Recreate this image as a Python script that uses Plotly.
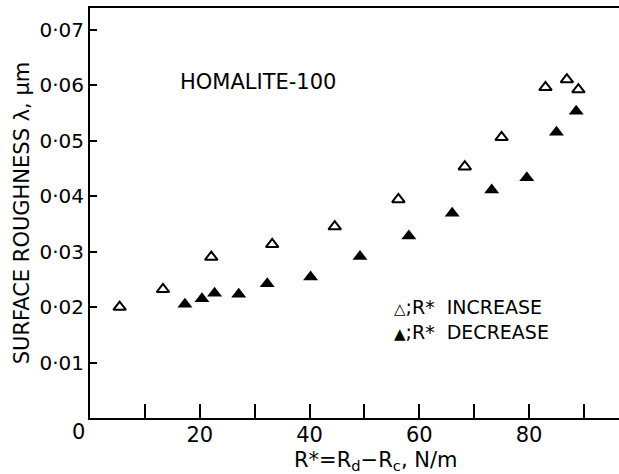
import plotly.graph_objects as go

# Data
inc_x = [5.4, 13.3, 22.1, 33.2, 44.6, 56.2, 68.3, 75.0, 83.0, 86.9, 89.0]
inc_y = [0.0200, 0.0232, 0.0290, 0.0313, 0.0345, 0.0394, 0.0453, 0.0506, 0.0596, 0.0610, 0.0592]

dec_x = [17.3, 20.4, 22.7, 27.1, 32.3, 40.2, 49.2, 58.1, 66.0, 73.2, 79.6, 85.0, 88.6]
dec_y = [0.0205, 0.0215, 0.0225, 0.0223, 0.0242, 0.0254, 0.0291, 0.0328, 0.0369, 0.0411, 0.0433, 0.0515, 0.0553]

x_tickvals = [20, 40, 60, 80]
x_ticktext = ["20", "40", "60", "80"]
x_minorvals = [10, 30, 50, 70, 90]
y_tickvals = [0.01, 0.02, 0.03, 0.04, 0.05, 0.06, 0.07]
y_ticktext = ["0·01", "0·02", "0·03", "0·04", "0·05", "0·06", "0·07"]

FONT = "DejaVu Sans"

fig = go.Figure()
fig.add_trace(go.Scatter(
    x=inc_x, y=inc_y, mode="markers", name="R* INCREASE",
    marker=dict(symbol="triangle-up-open", size=11, color="black",
                line=dict(width=2, color="black")),
))
fig.add_trace(go.Scatter(
    x=dec_x, y=dec_y, mode="markers", name="R* DECREASE",
    marker=dict(symbol="triangle-up", size=13, color="black",
                line=dict(width=0)),
))

fig.update_layout(
    width=619, height=474,
    margin=dict(l=90, r=0, t=8, b=56),
    paper_bgcolor="white", plot_bgcolor="white",
    showlegend=False,
    font=dict(family=FONT, size=20, color="black"),
)
fig.update_xaxes(
    range=[0, 96.4], showgrid=False, zeroline=False,
    showline=True, linecolor="black", linewidth=2, mirror=True,
    ticks="inside", ticklen=14, tickwidth=1.5, tickcolor="black",
    tickvals=x_tickvals, ticktext=x_ticktext, ticklabelstandoff=-3,
    minor=dict(tickvals=x_minorvals, ticks="inside", ticklen=14,
               tickwidth=1.5, tickcolor="black", showgrid=False),
    tickfont=dict(family=FONT, size=21),
)
fig.update_yaxes(
    range=[0, 0.0739], showgrid=False, zeroline=False,
    showline=True, linecolor="black", linewidth=2, mirror=False,
    ticks="inside", ticklen=7, tickwidth=1.5, tickcolor="black",
    tickvals=y_tickvals, ticktext=y_ticktext,
    tickfont=dict(family=FONT, size=20),
    title=dict(text="SURFACE ROUGHNESS λ, μm",
               font=dict(family=FONT, size=21), standoff=4),
)

fig.add_annotation(x=0, y=0, xref="x", yref="y", text="0", showarrow=False,
                   xshift=-12, yshift=-14, font=dict(family=FONT, size=21))
fig.add_annotation(x=0.539, y=-0.105, xref="paper", yref="paper",
                   text="R*=R<sub>d</sub>−R<sub>c</sub>, N/m", showarrow=False,
                   xanchor="center", yanchor="middle",
                   font=dict(family=FONT, size=21))
fig.add_annotation(x=0.166, y=0.82, xref="paper", yref="paper",
                   text="HOMALITE-100", showarrow=False, xanchor="left",
                   yanchor="middle", font=dict(family=FONT, size=21))
fig.add_annotation(
    x=0.57, y=0.241, xref="paper", yref="paper",
    text=("<span style='font-size:15px'>△</span>;R*  INCREASE<br>"
          "<span style='font-size:15px'>▲</span>;R*  DECREASE"),
    showarrow=False, xanchor="left", yanchor="middle", align="left",
    font=dict(family=FONT, size=19),
)

fig.write_html("out.html")
